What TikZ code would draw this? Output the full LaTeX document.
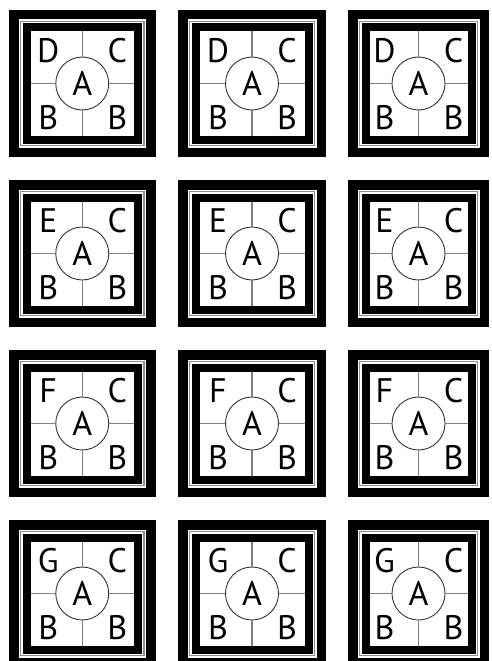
\documentclass[tikz,border=0pt]{standalone}
\usepackage{fontspec}
\setmainfont{PT Sans}
\begin{document}
\begin{tikzpicture}[x=1pt,y=-1pt,
  band/.style={black},
  sep/.style={draw=black!45,line width=1.4pt},
  cross/.style={draw=black!50,line width=1.1pt},
  hub/.style={circle,draw=black!80,line width=0.9pt,fill=white,minimum size=53pt,inner sep=0pt,font=\fontsize{34}{34}\selectfont},
  letter/.style={inner sep=0pt,font=\fontsize{34}{34}\selectfont}]
\useasboundingbox (0,0) rectangle (492,661);
\clip (0,0) rectangle (492,661);
\fill[white] (0,0) rectangle (492,661);
\foreach \r/\ya/\yb/\L in {1/10/157/D, 2/180/327/E, 3/350/497/F, 4/520/667/G}{
  \foreach \c/\xa/\xb in {1/9/155.5, 2/178/326, 3/348/489}{
    \pgfmathsetmacro\cx{(\xa+\xb)/2}
    \pgfmathsetmacro\cy{(\ya+\yb)/2}
    \fill[band] (\xa,\ya) rectangle (\xb,\yb);
    \fill[white] (\xa+9.5,\ya+9.5) rectangle (\xb-9.5,\yb-9.5);
    \draw[sep] (\xa+11.5,\ya+11.5) rectangle (\xb-11.5,\yb-11.5);
    \fill[band] (\xa+13.5,\ya+13.5) rectangle (\xb-13.5,\yb-13.5);
    \fill[white] (\xa+21.5,\ya+21.5) rectangle (\xb-21.5,\yb-21.5);
    \coordinate (n\r\c) at (\cx,\ya+21.5);
    \coordinate (s\r\c) at (\cx,\yb-21.5);
    \coordinate (w\r\c) at (\xa+21.5,\cy);
    \coordinate (e\r\c) at (\xb-21.5,\cy);
    \node[hub] (h\r\c) at (\cx,\cy) {A};
    \draw[cross] (n\r\c) -- (h\r\c.north);
    \draw[cross] (s\r\c) -- (h\r\c.south);
    \draw[cross] (w\r\c) -- (h\r\c.west);
    \draw[cross] (e\r\c) -- (h\r\c.east);
    \node[letter] (tl\r\c) at (\cx-34,\cy-33) {\L};
    \node[letter] (tr\r\c) at (\cx+35,\cy-33) {C};
    \node[letter] (bl\r\c) at (\cx-34,\cy+34) {B};
    \node[letter] (br\r\c) at (\cx+35,\cy+34) {B};
  }
}
\end{tikzpicture}
\end{document}
